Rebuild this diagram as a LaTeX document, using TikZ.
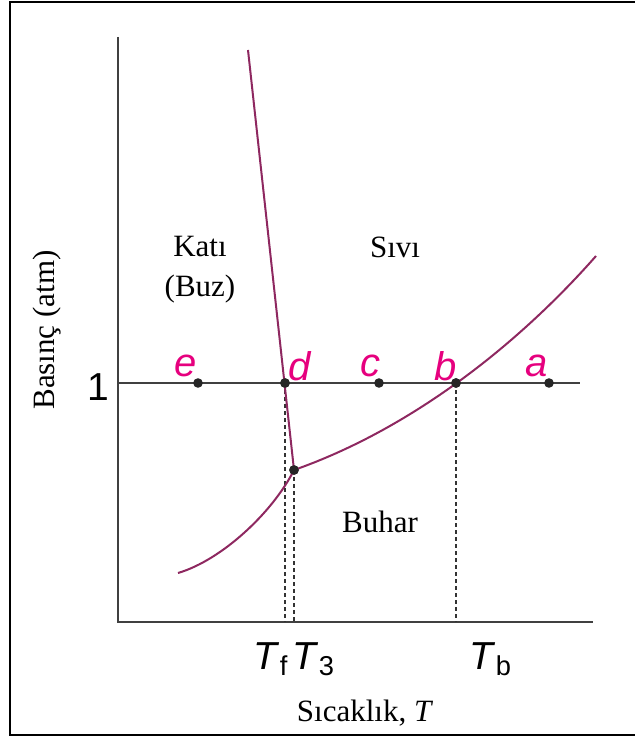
\documentclass[tikz,border=0pt]{standalone}
\usepackage{fontspec}
\setmainfont{Liberation Serif}
\setsansfont{Liberation Sans}
\usetikzlibrary{positioning,calc}

\definecolor{curvecol}{RGB}{142,40,96}
\definecolor{ptcol}{RGB}{230,0,126}

\begin{document}
\begin{tikzpicture}[x=0.5pt, y=-0.5pt,
    axis/.style={draw=black!75, line width=1.1pt},
    phase/.style={draw=curvecol, line width=1pt},
    guide/.style={draw=black!80, line width=1.2pt, dash pattern=on 2pt off 1.5pt},
    dot/.style={circle, fill=black!85, inner sep=0pt, minimum size=4.8pt},
    region/.style={font=\fontsize{15.5}{20}\selectfont, align=center, inner sep=0pt},
    ptlbl/.style={text=ptcol, font=\sffamily\itshape\fontsize{20}{22}\selectfont, inner sep=0pt},
    tlbl/.style={font=\sffamily\fontsize{19.5}{21}\selectfont, inner sep=0pt},
  ]
  \useasboundingbox (0,0) rectangle (635,738);
  \clip (0,0) rectangle (635,738);
  \draw[line width=1.3pt] (10,2) rectangle (660,735);

  % axes
  \coordinate (O) at (118,622);
  \coordinate (ytop) at (118,37);
  \coordinate (xend) at (593,622);
  \coordinate (pL) at (118,383);
  \coordinate (pR) at (580,383);
  \draw[axis] (ytop) -- (O) -- (xend);
  \draw[axis] (pL) -- (pR);

  % points on the 1 atm line
  \node[dot] (e) at (198,383) {};
  \node[dot] (d) at (285,383) {};
  \node[dot] (c) at (379,383) {};
  \node[dot] (b) at (456,383) {};
  \node[dot] (a) at (549,383) {};
  \node[dot] (t3) at (294,470) {};
  \coordinate (melttop) at (248,50);
  \coordinate (vapend) at (596,256);
  \coordinate (sublow) at (178,573);

  % guide lines
  \draw[guide] (d.center) -- (d |- O);
  \draw[guide] (t3.center) -- (t3 |- O);
  \draw[guide] (b.center) -- (b |- O);

  % phase boundaries
  \draw[phase] (melttop) -- (t3.center);
  \draw[phase] (t3.center) .. controls (408,430) and (515,348) .. (vapend);
  \draw[phase] (sublow) .. controls (222,560) and (273,512) .. (t3.center);
  \node[dot] at (d) {};
  \node[dot] at (b) {};
  \node[dot] at (t3) {};

  % point labels
  \node[ptlbl] (le) at ([shift={(-12,-17)}]e.center) {e};
  \node[ptlbl] (ld) at ([shift={(15,-17)}]d.center) {d};
  \node[ptlbl] (lc) at ([shift={(-9,-17)}]c.center) {c};
  \node[ptlbl] (lb) at ([shift={(-10,-17)}]b.center) {b};
  \node[ptlbl] (la) at ([shift={(-12,-17)}]a.center) {a};

  % regions
  \node[region] (solid) at (200,270) {Katı\\(Buz)};
  \node[region] (liquid) at (395,247) {Sıvı};
  \node[region] (vapor) at (380,522) {Buhar};

  % axis labels
  \node[region, rotate=90] (ylab) at (47,330) {Basınç (atm)};
  \node[tlbl] (one) at (98,387) {1};
  \node[tlbl] (tf) at (271,659) {\textit{T}\textsubscript{f}};
  \node[tlbl] (t3lbl) at (314,659) {\textit{T}\textsubscript{3}};
  \node[tlbl] (tb) at (491,659) {\textit{T}\textsubscript{b}};
  \node[region] (xlab) at (365,713) {Sıcaklık, \textit{T}};
\end{tikzpicture}
\end{document}
